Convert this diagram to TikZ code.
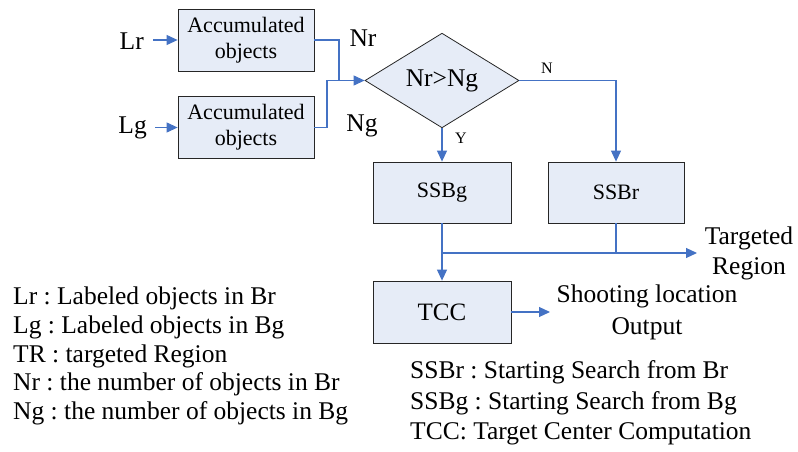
\documentclass[tikz,border=0pt]{standalone}
\usepackage{fontspec}
\setmainfont{Liberation Serif}
\frenchspacing
\usetikzlibrary{shapes.geometric,arrows.meta}
\definecolor{boxfill}{RGB}{230,236,247}
\definecolor{linkblue}{RGB}{68,114,196}
\tikzset{
  boxnode/.style={draw=black!85, line width=0.8pt, fill=boxfill, align=center, inner sep=0pt,
    font=\fontsize{22}{26}\selectfont},
  decnode/.style={diamond, draw=black!85, line width=0.8pt, fill=boxfill, inner sep=0pt,
    font=\fontsize{25.5}{29}\selectfont},
  lbl/.style={inner sep=0pt, font=\fontsize{25.5}{29}\selectfont},
  smalllbl/.style={inner sep=0pt, font=\fontsize{16}{19}\selectfont},
  conn/.style={draw=linkblue, line width=1.1pt},
  arr/.style={conn, -{Triangle[length=11pt,width=10pt]}},
}
\begin{document}
\begin{tikzpicture}[x=1pt,y=-1pt]
\useasboundingbox (0,0) rectangle (798,452);
% boxes
\node[boxnode, minimum width=136pt, minimum height=62pt] (acc1) at (246,40) {Accumulated\\objects};
\node[boxnode, minimum width=136pt, minimum height=62pt] (acc2) at (246,127.5) {Accumulated\\objects};
\node[decnode, minimum width=154pt, minimum height=93pt] (dec) at (442,80.5) {Nr>Ng};
\node[boxnode, minimum width=138pt, minimum height=61pt] (ssbg) at (442,192.5) {SSBg};
\node[boxnode, minimum width=136pt, minimum height=61pt] (ssbr) at (616,192.5) {SSBr};
\node[boxnode, minimum width=138pt, minimum height=62pt, font=\fontsize{25}{29}\selectfont] (tcc) at (442,312) {TCC};
% labels
\node[lbl, anchor=east] (lr) at (144,41) {Lr};
\node[lbl, anchor=east] (lg) at (147,128) {Lg};
\node[lbl] (nr) at (363,38) {Nr};
\node[lbl] (ng) at (362,126) {Ng};
\node[smalllbl] (nlab) at (547,68) {N};
\node[smalllbl] (ylab) at (461,138) {Y};
\node[lbl, align=center, font=\fontsize{25.5}{30}\selectfont] (treg) at (749,253) {Targeted\\Region};
\node[lbl, align=center, font=\fontsize{25.5}{32}\selectfont] (shoot) at (647,312) {Shooting location\\Output};
\node[lbl, align=left, anchor=west, font=\fontsize{25.5}{28.75}\selectfont] (legl) at (13,356)
  {Lr : Labeled objects in Br\\Lg : Labeled objects in Bg\\TR : targeted Region\\Nr : the number of objects in Br\\Ng : the number of objects in Bg};
\node[lbl, align=left, anchor=west, font=\fontsize{25.5}{30.5}\selectfont] (legr) at (410,403)
  {SSBr : Starting Search from Br\\SSBg : Starting Search from Bg\\TCC: Target Center Computation};
% coordinates
\coordinate (m1) at (339,80.5);
\coordinate (m2) at (327,80.5);
\coordinate (trend) at (697,253);
\coordinate (shend) at (550,312);
% connectors
\draw[arr] ([xshift=9pt]lr.east |- acc1.west) -- (acc1.west);
\draw[arr] ([xshift=8pt]lg.east |- acc2.west) -- (acc2.west);
\draw[conn] (acc1.east) -| (m1);
\draw[arr] (acc2.east) -| (m2) -- (dec.west);
\draw[arr] (dec.east) -| (ssbr.north);
\draw[arr] (dec.south) -- (ssbg.north);
\draw[arr] (ssbg.south) -- (tcc.north);
\draw[conn] (ssbr.south) -- (ssbr.south |- trend);
\draw[arr] (ssbg.south |- trend) -- (trend);
\draw[arr] (tcc.east) -- (shend);
\end{tikzpicture}
\end{document}
